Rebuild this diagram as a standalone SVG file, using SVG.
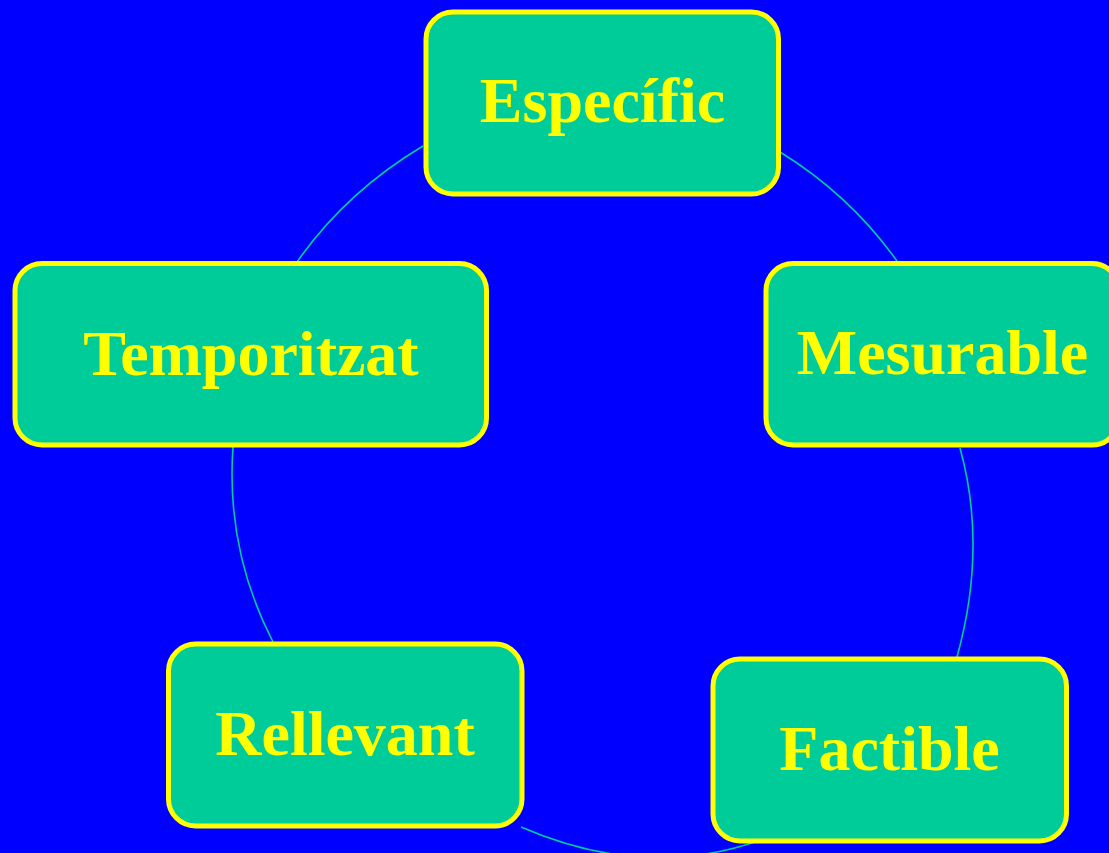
<svg xmlns="http://www.w3.org/2000/svg" width="1109" height="853" viewBox="0 0 1109 853">
<style>
.box{fill:#00CC99;stroke:#FFFF00;stroke-width:5}
.lbl{fill:#FFFF00;font-family:"Liberation Serif","Times New Roman",serif;font-weight:bold;font-size:64px;text-anchor:middle}
.arc{fill:none;stroke:#00CC99;stroke-width:1.6}
</style>
<rect width="1109" height="853" fill="#0000FF"/>
<g id="connectors">
<path class="arc" d="M297,262 Q346,192 423,146"/>
<path class="arc" d="M780,152 Q849.5,194.7 897,261"/>
<path class="arc" d="M960,448 Q987.5,547.5 957,657"/>
<path class="arc" d="M755,842 Q642,879.5 521,827"/>
<path class="arc" d="M273,642 Q225.6,550 233,447"/>
</g>
<g id="especific">
<rect class="box" x="426" y="12" width="352.5" height="182" rx="27"/>
<text class="lbl" x="602.5" y="122">Específic</text>
</g>
<g id="mesurable">
<rect class="box" x="766" y="263.5" width="353" height="181.5" rx="27"/>
<text class="lbl" x="942.5" y="374">Mesurable</text>
</g>
<g id="factible">
<rect class="box" x="713" y="659" width="353.5" height="182" rx="27"/>
<text class="lbl" x="889.5" y="770">Factible</text>
</g>
<g id="rellevant">
<rect class="box" x="168.5" y="644" width="353.5" height="182" rx="27"/>
<text class="lbl" x="345" y="755">Rellevant</text>
</g>
<g id="temporitzat">
<rect class="box" x="15" y="263.5" width="471.5" height="181.5" rx="27"/>
<text class="lbl" x="251" y="375">Temporitzat</text>
</g>
</svg>
